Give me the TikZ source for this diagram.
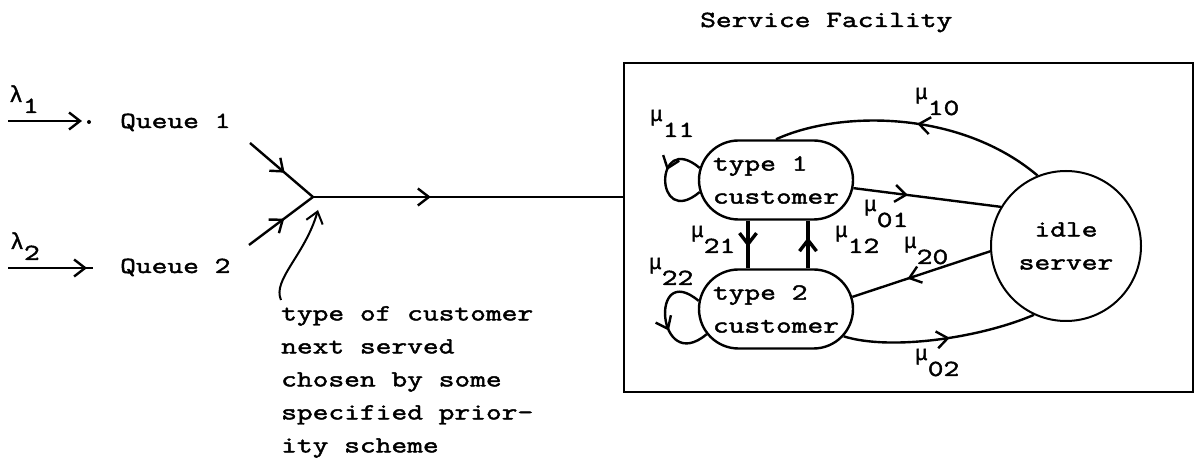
\documentclass[tikz,border=0pt]{standalone}
\usepackage{fontspec}
\setmonofont[FakeStretch=1.33,FakeBold=2]{Latin Modern Mono}
\newfontfamily\grk[FakeBold=1.5]{Liberation Mono}
\usetikzlibrary{arrows.meta,decorations.markings,shapes.misc}
\newcommand\tw{\ttfamily\fontsize{23}{33}\selectfont}
\newcommand\lamlab[1]{\raisebox{11pt}{\grk\fontsize{23}{23}\selectfont λ}#1}
\newcommand\mulab[1]{\raisebox{16pt}{\grk\fontsize{21}{21}\selectfont μ}#1}
\tikzset{
  tip/.tip={Straight Barb[length=11pt,width=17pt]},
  midarrow/.style={postaction={decorate},decoration={markings,mark=at position #1 with {\arrow{tip}}}},
  line/.style={line width=2.4pt},
  txt/.style={inner sep=0pt,font=\tw},
  state/.style={draw,line width=2.4pt,rounded rectangle,minimum width=154pt,minimum height=79pt,inner sep=0pt,align=left,font=\tw},
}
\begin{document}
\begin{tikzpicture}[x=1pt,y=1pt]
\useasboundingbox (0,0) rectangle (1195,463);
% left part
\coordinate (l1s) at (8,342);
\coordinate (l1e) at (82,342);
\coordinate (l2s) at (8,195);
\coordinate (l2e) at (93,195);
\draw[line,-tip] (l1s) -- (l1e);
\fill (89,341) circle (2);
\draw[line,midarrow=0.93] (l2s) -- (l2e);
\node[txt,anchor=base west] (lab1) at (9,350) {\lamlab{1}};
\node[txt,anchor=base west] (lab2) at (10,203) {\lamlab{2}};
\node[txt,anchor=base west] (q1) at (120,335) {Queue 1};
\node[txt,anchor=base west] (q2) at (120,190) {Queue 2};
\coordinate (M) at (313,266);
\coordinate (q1o) at (250,320);
\coordinate (q2o) at (249,218);
\draw[line,midarrow=0.55] (q1o) -- (M);
\draw[line,midarrow=0.55] (q2o) -- (M);
% facility box
\node[draw,line width=2pt,minimum width=569pt,minimum height=329pt,inner sep=0pt] (fac) at (908.5,235.5) {};
\node[txt,anchor=base west] (title) at (700,436) {Service Facility};
\draw[line,midarrow=0.38] (M) -- (M -| fac.west);
% pointer
\coordinate (pst) at (281,163);
\coordinate (ptip) at (318,253);
\draw[line width=2pt,-tip] (pst) .. controls (272,183) and (305,208) .. (ptip);
\node[txt,anchor=north west,align=left] (note) at (281,157)
  {type of customer\\next served\\chosen by some\\specified prior-\\ity scheme};
% states
\node[state] (t1) at (776,283) {type 1\\customer};
\node[state] (t2) at (776,154) {type 2\\customer};
\node[draw,circle,line width=2pt,minimum size=150pt,inner sep=0pt,align=center,font=\tw] (srv) at (1066,217) {idle\\server};
% transitions
\draw[line,midarrow=0.48] (srv.112) .. controls (960,353) and (840,353) .. (t1.north);
\draw[line,midarrow=0.37] (t1.-6) -- (srv.149);
\draw[line,midarrow=0.6] (srv.184) -- (t2.9);
\draw[line,midarrow=0.55] (t2.-22) .. controls (890,112) and (980,125) .. (srv.245);
\draw[line width=3.4pt,midarrow=0.55] ([xshift=-28pt]t1.south) -- ([xshift=-28pt]t2.north);
\draw[line width=3.4pt,midarrow=0.65] ([xshift=32pt]t2.north) -- ([xshift=32pt]t1.south);
\draw[line,midarrow=0.4] (t1.171) to[out=140,in=220,distance=60pt] (t1.189);
\draw[line,midarrow=0.6] (t2.174) to[out=140,in=220,distance=65pt] (t2.200);
% labels
\node[txt,anchor=base west] (m11) at (650,326) {\mulab{11}};
\node[txt,anchor=base west] (m10) at (915,348) {\mulab{10}};
\node[txt,anchor=base west] (m01) at (864,236) {\mulab{01}};
\node[txt,anchor=base west] (m21) at (691,210) {\mulab{21}};
\node[txt,anchor=base west] (m12) at (835,210) {\mulab{12}};
\node[txt,anchor=base west] (m20) at (904,199) {\mulab{20}};
\node[txt,anchor=base west] (m22) at (649,178) {\mulab{22}};
\node[txt,anchor=base west] (m02) at (915,87) {\mulab{02}};
\end{tikzpicture}
\end{document}
